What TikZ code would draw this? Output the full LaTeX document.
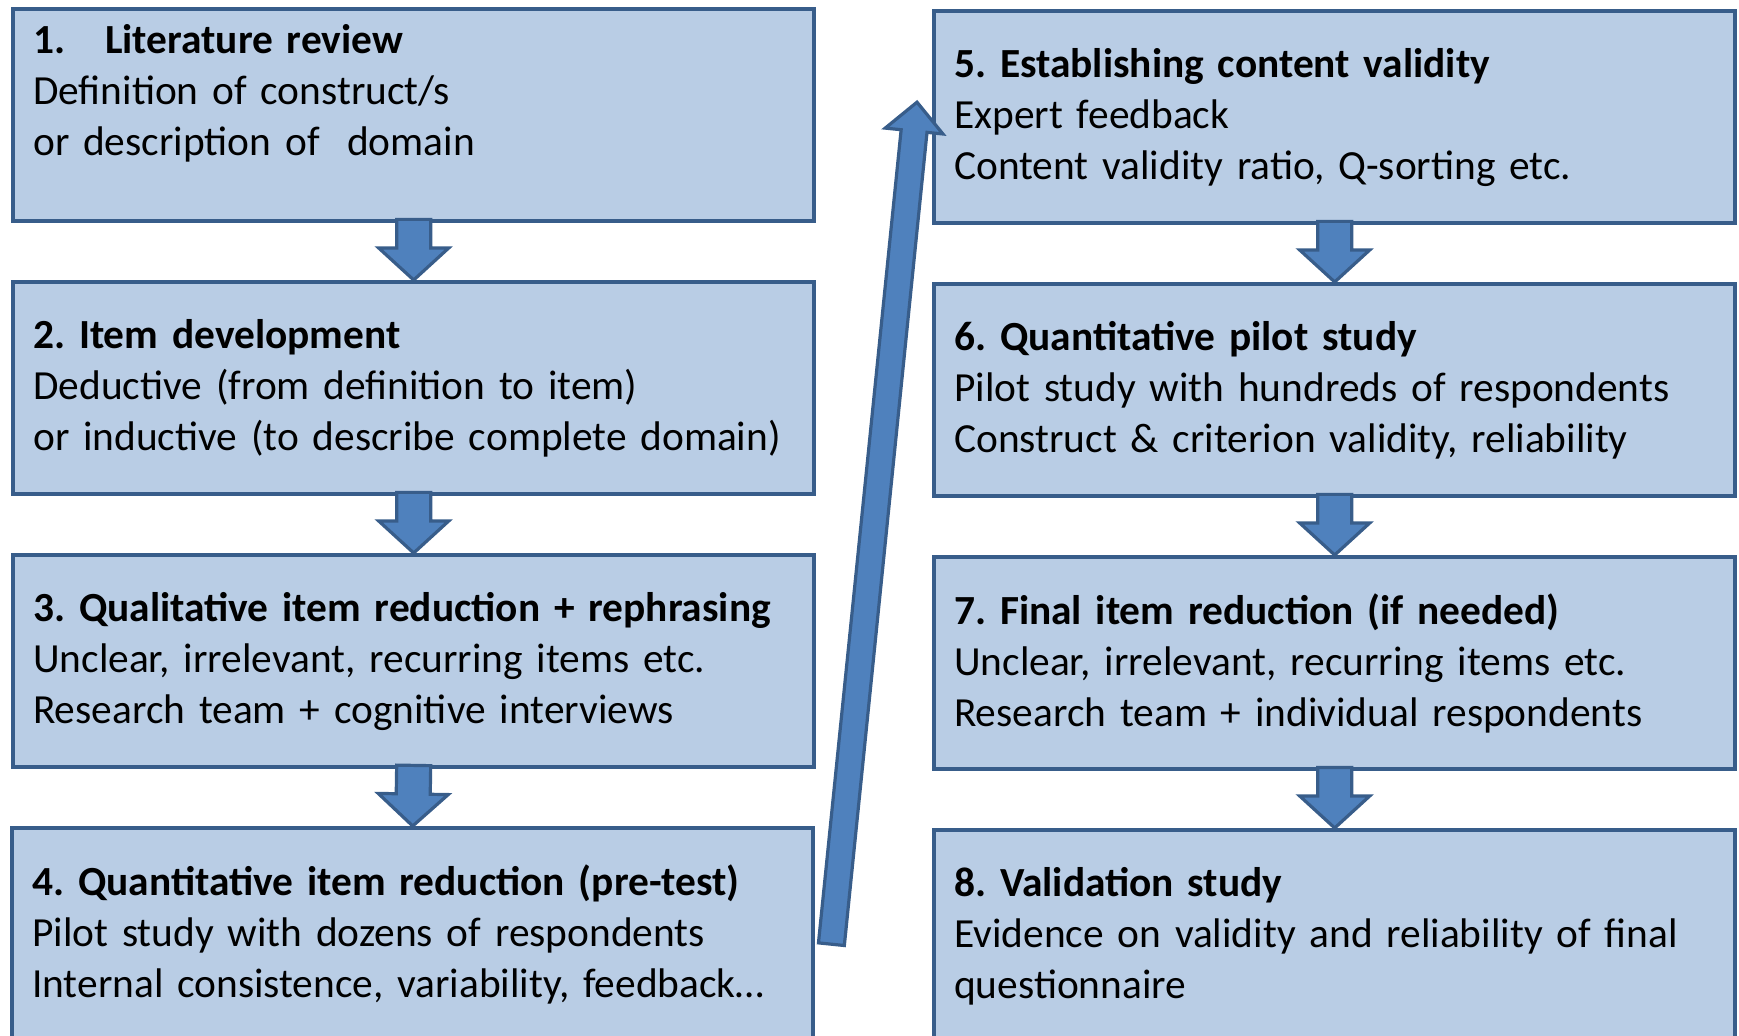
\documentclass[tikz,border=0pt]{standalone}
\usepackage{fontspec}
\setmainfont{Carlito}
\frenchspacing
\usetikzlibrary{calc}
\definecolor{boxfill}{HTML}{B9CDE5}
\definecolor{boxline}{HTML}{385D8A}
\definecolor{arrowfill}{HTML}{4F81BD}
\tikzset{
	stepbox/.style={rectangle, draw=boxline, fill=boxfill, line width=2.2pt, anchor=north west, minimum width=400.5pt, minimum height=106pt, text width=380.5pt, inner xsep=10pt, inner ysep=0pt, align=left, font=\fontsize{20.7}{25.5}\selectfont},
	blockarr/.style={draw=boxline, fill=arrowfill, line width=1.6pt, line join=miter},
}
\newcommand{\blockarrow}[5]{%
	\coordinate (ah) at ($(#2)!#5!(#1)$);
	\draw[blockarr] ($(#1)!#3!90:(#2)$) -- ($(ah)!#3!-90:(#1)$) -- ($(ah)!#4!-90:(#1)$) -- (#2) -- ($(ah)!#4!90:(#1)$) -- ($(ah)!#3!90:(#1)$) -- ($(#1)!#3!-90:(#2)$) -- cycle;}
\begin{document}
\begin{tikzpicture}[x=0.5pt,y=-0.5pt]
			\clip (0,0) rectangle (1739,1036);
			\node[stepbox] (b1) at (11,7) {\textbf{\makebox[36pt][l]{1.}Literature review}\\Definition of construct/s\\or description of\ \ domain\\\mbox{}};
			\node[stepbox] (b2) at (11,280) {\textbf{2. Item development}\\Deductive (from definition to item)\\or inductive (to describe complete domain)};
			\node[stepbox] (b3) at (11,553) {\textbf{3. Qualitative item reduction + rephrasing}\\Unclear, irrelevant, recurring items etc.\\Research team + cognitive interviews};
			\node[stepbox] (b4) at (10,826) {\textbf{4. Quantitative item reduction (pre-test)}\\Pilot study with dozens of respondents\\Internal consistence, variability, feedback…};
			\node[stepbox] (b5) at (932,9) {\textbf{5. Establishing content validity}\\Expert feedback\\Content validity ratio, Q-sorting etc.};
			\node[stepbox] (b6) at (932,282) {\textbf{6. Quantitative pilot study}\\Pilot study with hundreds of respondents\\Construct \& criterion validity, reliability};
			\node[stepbox] (b7) at (932,555) {\textbf{7. Final item reduction (if needed)}\\Unclear, irrelevant, recurring items etc.\\Research team + individual respondents};
			\node[stepbox] (b8) at (932,828) {\textbf{8. Validation study}\\Evidence on validity and reliability of final\\questionnaire};
			\coordinate (s1) at ($(b1.south)+(0,-4)$);
			\coordinate (s2) at ($(b2.south)+(0,-4)$);
			\coordinate (s3) at ($(b3.south)+(0,-4)$);
			\coordinate (s5) at ($(b5.south)+(0,-4)$);
			\coordinate (s6) at ($(b6.south)+(0,-4)$);
			\coordinate (s7) at ($(b7.south)+(0,-4)$);
			\coordinate (t4) at ($(b4.east)+(16,10)$);
			\coordinate (t5) at ($(b5.west)+(-15,-15)$);
			\blockarrow{s1}{b2.north}{8.5pt}{17.5pt}{16pt}
			\blockarrow{s2}{b3.north}{8.5pt}{17.5pt}{16pt}
			\blockarrow{s3}{b4.north}{8.5pt}{17.5pt}{16pt}
			\blockarrow{s5}{b6.north}{8.5pt}{17.5pt}{16pt}
			\blockarrow{s6}{b7.north}{8.5pt}{17.5pt}{16pt}
			\blockarrow{s7}{b8.north}{8.5pt}{17.5pt}{16pt}
			\blockarrow{t4}{t5}{6.5pt}{14.5pt}{14.5pt}
		\end{tikzpicture}
\end{document}
